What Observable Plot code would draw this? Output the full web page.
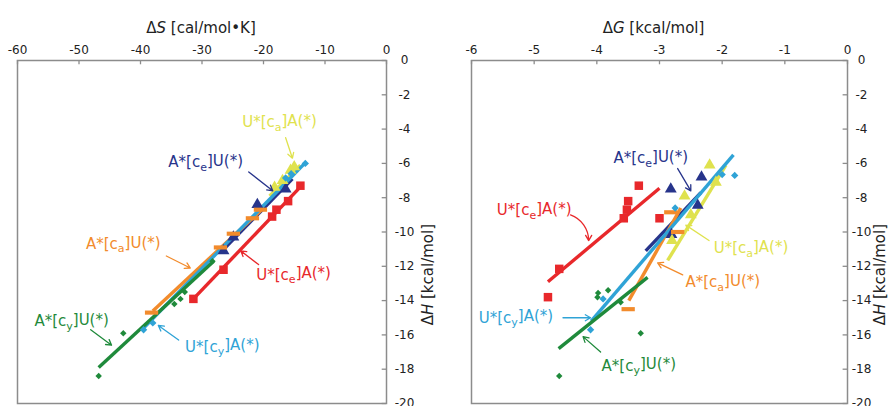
<!DOCTYPE html>
<html><head><meta charset="utf-8">
<script src="https://cdn.jsdelivr.net/npm/d3@7"></script>
<script src="https://cdn.jsdelivr.net/npm/@observablehq/plot@0.6"></script>
<style>
body{margin:0;background:#fff}
#c{display:flex;width:895px;height:406px;overflow:hidden}
</style>
</head><body><div id="c"></div>
<script>
// ---------- series meta ----------
const seriesNames   = ["U*[ce]A(*)", "A*[ce]U(*)", "U*[ca]A(*)", "A*[ca]U(*)", "U*[cy]A(*)", "A*[cy]U(*)"];
const seriesColors  = ["#e8282b", "#27348b", "#dfe24e", "#f28b2c", "#2fa3d6", "#1f8a3b"];
const seriesSymbols = ["square", "triangle", "triangle", "dash", "diamond2", "diamond2"];
const seriesSizes   = [4.8, 4.4, 4.4, 5.0, 3.3, 2.9];

// ---------- axis ticks ----------
const dSTicks = [-60, -50, -40, -30, -20, -10, 0];
const dGTicks = [-6, -5, -4, -3, -2, -1, 0];
const dHTicks = [0, -2, -4, -6, -8, -10, -12, -14, -16, -18, -20];

// ---------- left panel: ΔS vs ΔH ----------
const dS_UceA = [[-31.4,-13.9],[-26.5,-12.2],[-18.6,-9.1],[-17.9,-8.7],[-16.0,-8.2],[-14.0,-7.3]];
const dS_AceU = [[-26.5,-11.1],[-24.9,-10.3],[-21.0,-8.4],[-16.4,-7.5]];
const dS_UcaA = [[-18.2,-7.4],[-16.9,-7.0],[-15.6,-6.4],[-15.0,-6.2]];
const dS_AcaU = [[-38.2,-14.7],[-27.0,-10.9],[-24.9,-10.1],[-21.8,-9.2],[-20.5,-8.7]];
const dS_UcyA = [[-39.5,-15.7],[-38.0,-15.3],[-16.4,-6.85],[-15.5,-6.6],[-13.2,-6.0]];
const dS_AcyU = [[-46.8,-18.4],[-42.8,-15.9],[-34.5,-14.2],[-33.5,-13.9],[-32.8,-13.5],[-28.3,-11.7]];
const dS_fits = [
  [[-31.4,-13.9],[-13.8,-7.3]],
  [[-27.0,-11.2],[-15.3,-6.9]],
  [[-19.0,-7.9],[-14.0,-6.1]],
  [[-38.0,-14.6],[-20.0,-8.6]],
  [[-39.5,-15.6],[-13.3,-6.0]],
  [[-46.8,-17.9],[-28.1,-11.7]]
];
const dS_labels = [[-15.1,-12.5],[-29.4,-5.95],[-17.4,-3.6],[-42.8,-10.7],[-26.7,-16.7],[-51.2,-15.2]];
const dS_arrows = [
  [-20.8,-11.9,-23.7,-11.1],
  [-22.4,-6.5,-18.5,-7.6],
  [-16.4,-4.5,-15.3,-5.7],
  [-35.8,-11.4,-31.9,-12.1],
  [-33.8,-16.3,-37.1,-15.45],
  [-48.1,-15.7,-44.7,-16.6]
];

// ---------- right panel: ΔG vs ΔH ----------
const dG_UceA = [[-4.78,-13.8],[-4.6,-12.15],[-3.57,-9.2],[-3.52,-8.7],[-3.5,-8.2],[-3.33,-7.3],[-3.0,-9.2]];
const dG_AceU = [[-2.82,-7.5],[-2.33,-6.8],[-2.39,-8.45],[-2.81,-10.15]];
const dG_UcaA = [[-2.2,-6.1],[-2.1,-7.1],[-2.6,-7.9],[-2.5,-9.0],[-2.8,-10.5]];
const dG_AcaU = [[-3.5,-14.5],[-2.82,-8.85],[-2.71,-10.0]];
const dG_UcyA = [[-4.1,-15.7],[-3.9,-13.9],[-2.75,-8.6],[-2.0,-6.65],[-1.8,-6.7]];
const dG_AcyU = [[-4.6,-18.4],[-3.3,-15.9],[-3.99,-13.8],[-3.98,-13.55],[-3.82,-13.4],[-3.62,-14.1]];
const dG_fits = [
  [[-4.78,-12.9],[-3.0,-7.45]],
  [[-3.22,-11.1],[-2.34,-7.7]],
  [[-2.87,-11.66],[-1.94,-6.1]],
  [[-3.49,-14.0],[-2.66,-8.6]],
  [[-4.09,-15.2],[-1.82,-5.5]],
  [[-4.61,-16.8],[-3.19,-12.65]]
];
const dG_labels = [[-5.0,-8.75],[-3.14,-5.7],[-1.54,-10.96],[-1.99,-12.94],[-5.29,-15.0],[-3.33,-17.8]];
const dG_arrows = [
  [-4.42,-9.0,-4.13,-10.5],
  [-2.71,-6.3,-2.5,-7.6],
  [-2.21,-10.5,-2.58,-9.6],
  [-2.63,-12.5,-3.03,-11.8],
  [-4.54,-15.0,-4.1,-15.0],
  [-3.94,-17.0,-4.22,-16.1]
];

// ---------- helpers ----------
const dashSymbol = {draw(ctx, size) { const w = Math.sqrt(size) * 1.5, h = w / 3.2; ctx.rect(-w/2, -h/2, w, h); }};
const frameGrey = "#8c8c8c";
const fmt = d => String(d);

function panel({width, marginLeft, marginRight, xDomain, xTicks, xTickLen, yTickLen, yPad, points, fits, labels, arrows, title, titleDx, yTitleDx, bendIndex}) {
  const marks = [];
  marks.push(Plot.frame({stroke: frameGrey, strokeWidth: 1.5}));
  marks.push(Plot.ruleX(xTicks, {x: d => d, y1: 0, y2: xTickLen, stroke: frameGrey, strokeWidth: 1.3}));
  marks.push(Plot.ruleY(dHTicks, {y: d => d, x1: 0, x2: yTickLen, stroke: frameGrey, strokeWidth: 1.3}));
  marks.push(Plot.axisX(xTicks, {anchor: "top", tickSize: 0, tickPadding: 7, fontSize: 12, fill: "#222", label: null, tickFormat: fmt}));
  marks.push(Plot.axisY(dHTicks, {anchor: "right", tickSize: 0, tickPadding: yPad, textAnchor: "middle", fontSize: 12, fill: "#222", label: null, tickFormat: fmt}));
  fits.forEach((f, i) => {
    marks.push(Plot.line(f, {x: d => d[0], y: d => d[1], stroke: seriesColors[i], strokeWidth: 3.4, strokeLinecap: "butt"}));
  });
  points.forEach((p, i) => {
    const sym = seriesSymbols[i] === "dash" ? dashSymbol : seriesSymbols[i];
    marks.push(Plot.dot(p, {x: d => d[0], y: d => d[1], symbol: sym, r: seriesSizes[i], fill: seriesColors[i], stroke: "none"}));
  });
  arrows.forEach((a, i) => {
    marks.push(Plot.arrow([a], {x1: d => d[0], y1: d => d[1], x2: d => d[2], y2: d => d[3], stroke: seriesColors[i], strokeWidth: 1.3, headLength: 7, bend: i === bendIndex ? 35 : 0}));
  });
  marks.push(Plot.text(labels.map((l, i) => ({x: l[0], y: l[1], t: seriesNames[i], c: seriesColors[i]})),
    {x: "x", y: "y", text: "t", fill: "c", fontSize: 15, textAnchor: "middle", className: "lbl"}));
  marks.push(Plot.text([title], {frameAnchor: "top", dy: -38, dx: titleDx, fontSize: 15, fill: "#222", className: "ttl"}));
  marks.push(Plot.text(["ΔH [kcal/mol]"], {frameAnchor: "right", dx: yTitleDx, dy: -8, rotate: -90, fontSize: 15, fill: "#222", className: "ttl"}));

  return Plot.plot({
    width, height: 406,
    marginLeft, marginRight, marginTop: 60, marginBottom: 3,
    style: {fontFamily: "'DejaVu Sans', Verdana, sans-serif", background: "#fff", overflow: "hidden"},
    x: {domain: xDomain},
    y: {domain: [-20, 0]},
    color: {type: "identity"},
    marks
  });
}

function decorate(svg) {
  d3.select(svg).selectAll(".lbl text").each(function() {
    const t = this.textContent;
    const m = t.match(/^(.*\[c)(.)(\].*)$/);
    if (!m) return;
    const s = d3.select(this); s.text(null);
    s.append("tspan").text(m[1]);
    s.append("tspan").attr("dy", "0.32em").attr("font-size", "11px").text(m[2]);
    s.append("tspan").attr("dy", "-0.32em").text(m[3]);
  });
  d3.select(svg).selectAll(".ttl text").each(function() {
    const t = this.textContent;
    const s = d3.select(this); s.text(null);
    s.append("tspan").text(t[0]);
    s.append("tspan").attr("font-style", "italic").text(t[1]);
    s.append("tspan").text(t.slice(2));
  });
  return svg;
}

const left = panel({
  width: 447, marginLeft: 17, marginRight: 61, xDomain: [-60, 0], xTicks: dSTicks,
  xTickLen: -0.25, yTickLen: -0.7, yPad: 18,
  points: [dS_UceA, dS_AceU, dS_UcaA, dS_AcaU, dS_UcyA, dS_AcyU],
  fits: dS_fits, labels: dS_labels, arrows: dS_arrows,
  title: "ΔS [cal/mol•K]", titleDx: -1, yTitleDx: 42, bendIndex: -1
});
const right = panel({
  width: 448, marginLeft: 24, marginRight: 48, xDomain: [-6, 0], xTicks: dGTicks,
  xTickLen: -0.25, yTickLen: -0.07, yPad: 14,
  points: [dG_UceA, dG_AceU, dG_UcaA, dG_AcaU, dG_UcyA, dG_AcyU],
  fits: dG_fits, labels: dG_labels, arrows: dG_arrows,
  title: "ΔG [kcal/mol]", titleDx: -6, yTitleDx: 33, bendIndex: 0
});
document.getElementById("c").append(decorate(left), decorate(right));
</script></body></html>
